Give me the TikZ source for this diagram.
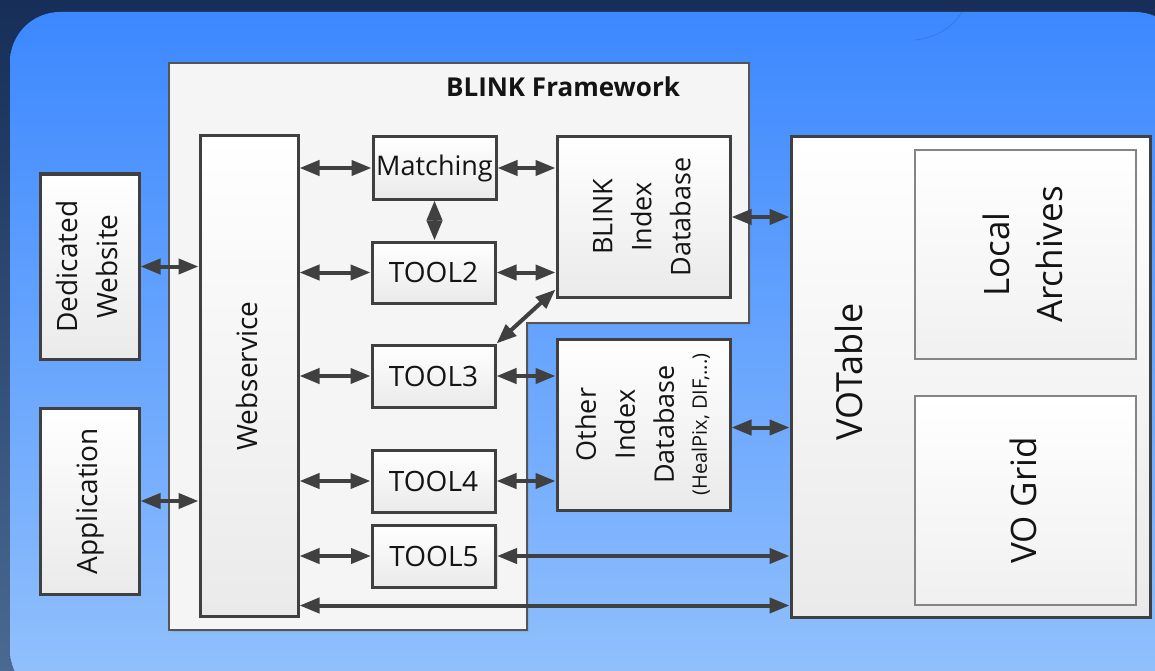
\documentclass[tikz,border=0pt]{standalone}
\usepackage{fontspec}
\setmainfont{Open Sans}
\usepackage{graphicx}
\usetikzlibrary{arrows.meta,shadows,calc}
\definecolor{bgtop}{HTML}{162E58}
\definecolor{bgbot}{HTML}{4A6A92}
\definecolor{intop}{HTML}{3C88FF}
\definecolor{inbot}{HTML}{94C2FC}
\definecolor{boxline}{HTML}{404040}
\definecolor{boxbot}{HTML}{EAEAEA}
\definecolor{arrcol}{HTML}{404040}
\definecolor{fwline}{HTML}{555555}
\definecolor{fwfill}{HTML}{F5F5F5}
\definecolor{subline}{HTML}{858585}
\definecolor{arcc}{HTML}{2F6FD2}
\newcommand{\rtext}[1]{\rotatebox{90}{\begin{tabular}{@{}c@{}}#1\end{tabular}}}
\begin{document}
\begin{tikzpicture}[x=1pt,y=-1pt,
  box/.style={draw=boxline, line width=3pt, top color=white, bottom color=boxbot,
    inner sep=0pt, text=black!92,
    drop shadow={shadow xshift=2pt, shadow yshift=-2pt, opacity=0.25}},
  subbox/.style={draw=subline, line width=1.6pt, top color=white, bottom color=boxbot!70!white,
    inner sep=0pt, text=black!92},
  fw/.style={draw=fwline, line width=2pt, fill=fwfill,
    drop shadow={shadow xshift=2pt, shadow yshift=-2pt, opacity=0.2}},
  arr/.style={{Triangle[length=20pt,width=15pt]}-{Triangle[length=20pt,width=15pt]},
    line width=4pt, draw=arrcol},
  big/.style={font=\fontsize{28}{40}\selectfont},
  lbl/.style={inner sep=0pt, text=black!92}
]
\useasboundingbox (0,0) rectangle (1155,671);
\shade[top color=bgtop, bottom color=bgbot] (0,0) rectangle (1155,671);
\shade[top color=intop, bottom color=inbot, rounded corners=50pt] (10,12) rectangle (1185,700);
\draw[arcc, line width=0.8pt, opacity=0.6] (962,12) .. controls (952,28) and (935,38) .. (915,40);

% framework outline
\path[fw] (169,63) -- (749,63) -- (749,323) -- (527,323) -- (527,630) -- (169,630) -- cycle;
\node[lbl, font=\fontsize{26}{30}\selectfont\bfseries] (title) at (563,87) {BLINK Framework};

% left boxes
\node[box, minimum width=99pt, minimum height=185pt, big] (dw) at (89.5,266.5) {\rtext{Dedicated\\Website}};
\node[box, minimum width=99pt, minimum height=186pt, big] (app) at (89.5,501) {\rtext{Application}};

% webservice
\node[box, minimum width=98pt, minimum height=480pt, big] (ws) at (249,376) {\rtext{Webservice}};

% tools
\node[box, minimum width=123pt, minimum height=62pt, font=\fontsize{27}{32}\selectfont] (match) at (434.5,168) {Matching};
\node[box, minimum width=123pt, minimum height=61pt, font=\fontsize{28}{32}\selectfont] (t2) at (433.5,272.5) {TOOL2};
\node[box, minimum width=123pt, minimum height=62pt, font=\fontsize{28}{32}\selectfont] (t3) at (433.5,376) {TOOL3};
\node[box, minimum width=123pt, minimum height=62pt, font=\fontsize{28}{32}\selectfont] (t4) at (433.5,481) {TOOL4};
\node[box, minimum width=123pt, minimum height=62pt, font=\fontsize{28}{32}\selectfont] (t5) at (434,556) {TOOL5};

% databases
\node[box, minimum width=173pt, minimum height=160pt, font=\fontsize{27}{39}\selectfont] (bid) at (643.5,217) {\rtext{BLINK\\Index\\Database}};
\node[box, minimum width=173pt, minimum height=171pt, font=\fontsize{27}{39}\selectfont] (oid) at (643.5,424.5) {\rtext{Other\\Index\\Database\\[-6pt]{\fontsize{20}{24}\selectfont (HealPix, DIF,...)}}};

% VOTable
\node[box, minimum width=359pt, minimum height=480pt] (vot) at (970.5,377) {};
\node[lbl, font=\fontsize{36}{44}\selectfont] (votl) at (849,372) {\rotatebox{90}{VOTable}};
\node[subbox, minimum width=221pt, minimum height=209pt, font=\fontsize{35}{53}\selectfont] (la) at (1025.5,254.5) {\rtext{Local\\Archives}};
\node[subbox, minimum width=221pt, minimum height=209pt, font=\fontsize{35}{53}\selectfont] (vog) at (1025.5,500.5) {\rtext{VO Grid}};

% connectors
\draw[arr] (dw.east) -- (dw.east -| ws.west);
\draw[arr] (app.east) -- (app.east -| ws.west);
\foreach \n in {match,t2,t3,t4,t5}{
  \draw[arr] (\n.west -| ws.east) -- (\n.west);
}
\draw[arr] (match.east) -- (match.east -| bid.west);
\draw[arr] (t2.east) -- (t2.east -| bid.west);
\draw[arr] (match.south) -- (match.south |- t2.north);
\draw[arr] (t3.north east) -- ([yshift=9pt]bid.south west);
\draw[arr] (t3.east) -- (t3.east -| oid.west);
\draw[arr] (t4.east) -- (t4.east -| oid.west);
\draw[arr] (t5.east) -- (t5.east -| vot.west);
\draw[arr] (bid.east) -- (bid.east -| vot.west);
\draw[arr] ([yshift=-3pt]oid.east) -- ([yshift=-3pt]oid.east -| vot.west);
\coordinate (wsb) at ([yshift=12pt]ws.south east);
\draw[arr] (wsb) -- (wsb -| vot.west);
\end{tikzpicture}
\end{document}
